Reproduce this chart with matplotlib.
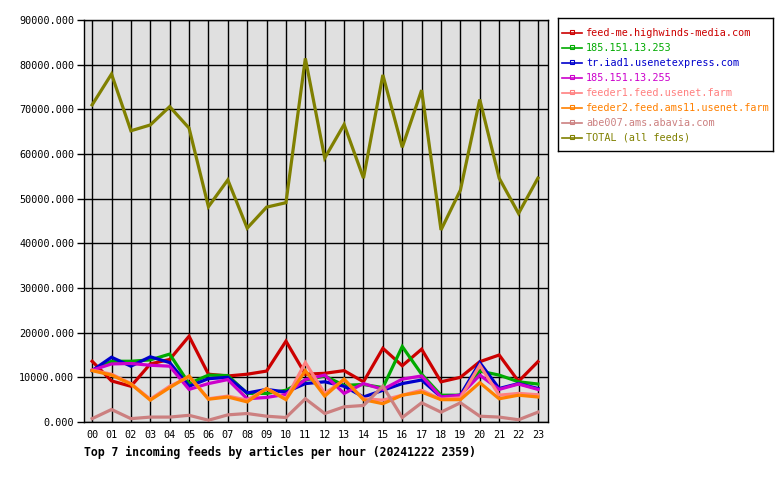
import matplotlib
matplotlib.use("Agg")
import matplotlib.pyplot as plt
from matplotlib.lines import Line2D

hours = ["%02d" % h for h in range(24)]
series_names = [
    "feed-me.highwinds-media.com",
    "185.151.13.253",
    "tr.iad1.usenetexpress.com",
    "185.151.13.255",
    "feeder1.feed.usenet.farm",
    "feeder2.feed.ams11.usenet.farm",
    "abe007.ams.abavia.com",
    "TOTAL (all feeds)",
]
colors = ["#cc0000", "#00aa00", "#0000cc", "#cc00cc", "#ff8080", "#ff8000", "#cc8080", "#808000"]

feedme = [13600, 9200, 8000, 13000, 14000, 19200, 10700, 10300, 10700, 11400, 18100, 10700,
          10900, 11500, 9000, 16500, 12600, 16300, 9000, 10000, 13500, 15000, 9100, 13500]
ip253 = [11500, 13600, 13600, 13900, 15200, 8600, 10500, 10400, 6400, 6400, 7100, 9400,
         10300, 8200, 8400, 7700, 16900, 10700, 6000, 6000, 11400, 10500, 9000, 8500]
iad1 = [11500, 14500, 12500, 14600, 13300, 8000, 9700, 10000, 6500, 7300, 6700, 8600,
        9000, 8000, 5600, 7100, 8600, 9400, 5600, 6000, 13300, 7500, 8600, 7500]
ip255 = [11600, 13000, 13100, 12700, 12500, 7300, 8600, 9500, 5200, 5500, 6200, 9500,
         10500, 6400, 8600, 7300, 9600, 10300, 5600, 6000, 10500, 7300, 8500, 7300]
feeder1 = [11600, 10700, 8600, 5100, 8000, 10100, 5200, 5800, 4900, 7500, 5200, 13300,
           6400, 9400, 5200, 4900, 6000, 7100, 5100, 5400, 12700, 6000, 6400, 6100]
feeder2 = [11500, 10500, 8500, 4900, 7700, 10300, 5100, 5600, 4500, 7500, 5000, 11500,
           5800, 9600, 5000, 4100, 6000, 6700, 5000, 5000, 8800, 5200, 6000, 5600]
abe007 = [750, 2800, 750, 1100, 1100, 1500, 400, 1600, 1900, 1300, 1000, 5200,
          1900, 3400, 3700, 8000, 1000, 4300, 2200, 4300, 1300, 1100, 500, 2200]
total = [71000, 77900, 65200, 66500, 70600, 65800, 48200, 54200, 43400, 48100, 49100, 81400,
         59100, 66600, 54600, 77700, 61500, 74300, 43000, 51900, 72200, 54600, 46700, 54600]
all_series = [feedme, ip253, iad1, ip255, feeder1, feeder2, abe007, total]
yticks = [0, 10000, 20000, 30000, 40000, 50000, 60000, 70000, 80000, 90000]
title = "Top 7 incoming feeds by articles per hour (20241222 2359)"

mono = "DejaVu Sans Mono"
W, H = 780, 480
fig = plt.figure(figsize=(7.8, 4.8), dpi=100)
ax = fig.add_axes([84 / W, (H - 422) / H, (548 - 84) / W, (422 - 20) / H])
ax.set_facecolor("#e0e0e0")
x = list(range(24))
for vals, c in zip(all_series, colors):
    ax.plot(x, vals, color=c, lw=2.3, solid_joinstyle="miter", zorder=3)
ax.set_xlim(-0.42, 23.52)
ax.set_ylim(0, 90000)
ax.set_xticks(x)
ax.set_xticklabels(hours, fontfamily=mono, fontsize=7.3)
ax.set_yticks(yticks)
ax.set_yticklabels(["%.3f" % v for v in yticks], fontfamily=mono, fontsize=7.3)
ax.tick_params(axis="x", length=0, pad=6)
ax.tick_params(axis="y", length=5, width=1, pad=2)
ax.grid(True, color="black", lw=1, zorder=1)
ax.set_axisbelow(True)
for s in ax.spines.values():
    s.set_linewidth(1)
fig.text(84 / W, 1 - 452 / H, title, fontfamily=mono, fontweight="bold", fontsize=8.3,
         va="center", ha="left")

# legend box
lax = fig.add_axes([558 / W, 1 - 151 / H, (773 - 558) / W, (151 - 18) / H])
lax.set_xlim(558, 773)
lax.set_ylim(151, 18)
lax.set_xticks([])
lax.set_yticks([])
for s in lax.spines.values():
    s.set_linewidth(1)
for i, (name, c) in enumerate(zip(series_names, colors)):
    yy = 33 + 15 * i
    lax.add_line(Line2D([562, 582], [yy, yy], color=c, lw=1.2))
    lax.add_line(Line2D([572], [yy - 1], color=c, marker="s", markersize=2.5,
                        markerfacecolor="none", markeredgewidth=0.8))
    lax.text(586, yy, name, color=c, fontfamily=mono, fontsize=7.3, va="center", ha="left")

fig.savefig("out.png", dpi=100)
